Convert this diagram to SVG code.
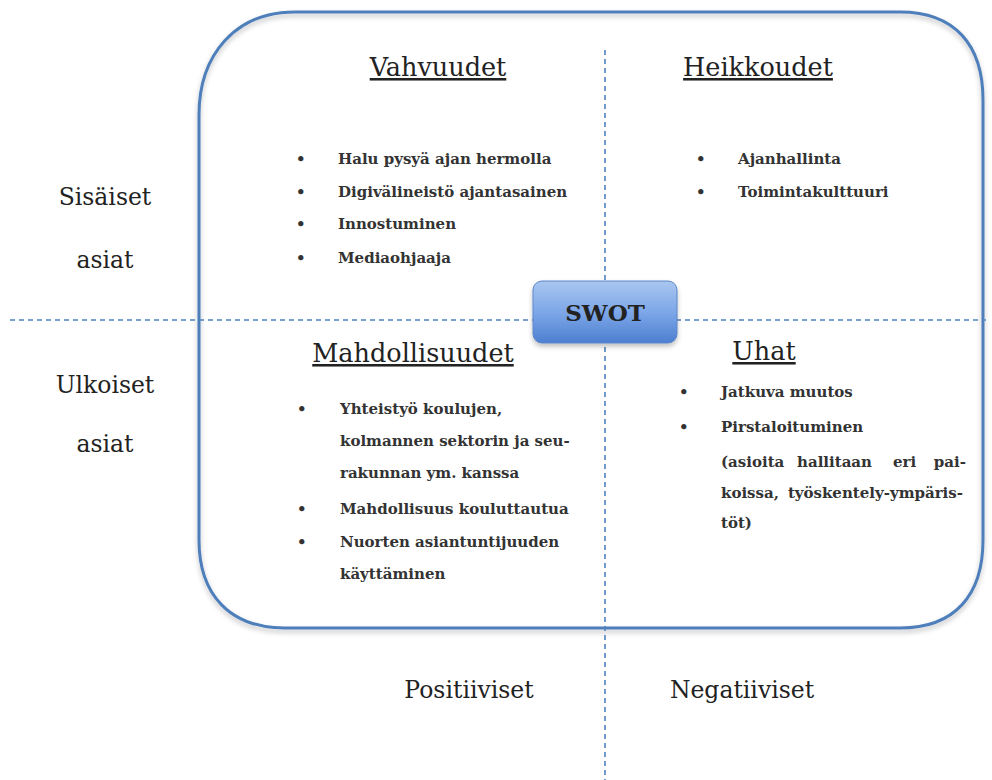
<svg xmlns="http://www.w3.org/2000/svg" width="992" height="780" viewBox="0 0 992 780">
<style>
.t{font-family:"DejaVu Serif","Liberation Serif",serif;fill:#222}
.h{font-size:25.5px;text-decoration:underline;text-anchor:middle}
.side{font-size:23.5px;text-anchor:middle}
.b{font-size:15px;font-weight:bold;fill:#333}
.dash{stroke:#4F81BD;stroke-width:1.6;stroke-dasharray:5 4;fill:none}
</style>
<defs>
<linearGradient id="g" x1="0" y1="0" x2="0" y2="1">
<stop offset="0" stop-color="#A9C6F0"/>
<stop offset="0.5" stop-color="#7DA7E8"/>
<stop offset="1" stop-color="#4D7FD0"/>
</linearGradient>
<filter id="sh" x="-10%" y="-10%" width="120%" height="130%">
<feDropShadow dx="0" dy="3" stdDeviation="2.5" flood-color="#000" flood-opacity="0.25"/>
</filter>
</defs>
<rect width="992" height="780" fill="#fff"/>
<g id="frame">
<path d="M295,12 H900 C955,12 983,45 983,100 V540 C983,595 955,628 900,628 H285 C230,628 199,595 199,540 V115 C199,55 235,12 295,12 Z" fill="none" stroke="#4F7FBB" stroke-width="3" filter="url(#sh)"/>
</g>
<g id="connectors">
<line class="dash" x1="10" y1="320" x2="986" y2="320"/>
<line class="dash" x1="605" y1="50" x2="605" y2="780"/>
</g>
<g id="swot">
<rect x="533" y="281" width="144" height="62" rx="9" fill="url(#g)" stroke="#5A86C8" stroke-width="1" filter="url(#sh)"/>
<text class="t" x="605" y="321" font-size="23" font-weight="bold" text-anchor="middle" fill="#1a1f3a">SWOT</text>
</g>
<g id="labels">
<text class="t side" x="105" y="205">Sisäiset</text>
<text class="t side" x="105" y="268">asiat</text>
<text class="t side" x="105" y="393">Ulkoiset</text>
<text class="t side" x="105" y="452">asiat</text>
<text class="t side" x="469" y="698">Positiiviset</text>
<text class="t side" x="742" y="698">Negatiiviset</text>
</g>
<g id="vahvuudet">
<text class="t h" x="438" y="76">Vahvuudet</text>
<g class="t b">
<text x="296" y="164">•</text><text x="338" y="164">Halu pysyä ajan hermolla</text>
<text x="296" y="197">•</text><text x="338" y="197">Digivälineistö ajantasainen</text>
<text x="296" y="229">•</text><text x="338" y="229">Innostuminen</text>
<text x="296" y="263">•</text><text x="338" y="263">Mediaohjaaja</text>
</g>
</g>
<g id="heikkoudet">
<text class="t h" x="758" y="76">Heikkoudet</text>
<g class="t b">
<text x="696" y="164">•</text><text x="738" y="164">Ajanhallinta</text>
<text x="696" y="197">•</text><text x="738" y="197">Toimintakulttuuri</text>
</g>
</g>
<g id="mahdollisuudet">
<text class="t h" x="413" y="362">Mahdollisuudet</text>
<g class="t b">
<text x="297" y="414">•</text><text x="340" y="414">Yhteistyö koulujen,</text>
<text x="340" y="446">kolmannen sektorin ja seu-</text>
<text x="340" y="478">rakunnan ym. kanssa</text>
<text x="297" y="514">•</text><text x="340" y="514">Mahdollisuus kouluttautua</text>
<text x="297" y="547">•</text><text x="340" y="547">Nuorten asiantuntijuuden</text>
<text x="340" y="579">käyttäminen</text>
</g>
</g>
<g id="uhat">
<text class="t h" x="764" y="360">Uhat</text>
<g class="t b">
<text x="679" y="397">•</text><text x="721" y="397">Jatkuva muutos</text>
<text x="679" y="432">•</text><text x="721" y="432">Pirstaloituminen</text>
<text y="467"><tspan x="721">(asioita</tspan><tspan x="797">hallitaan</tspan><tspan x="893">eri</tspan><tspan x="966" text-anchor="end">pai-</tspan></text>
<text y="498"><tspan x="721">koissa,</tspan><tspan x="963" text-anchor="end">työskentely-ympäris-</tspan></text>
<text x="721" y="528">töt)</text>
</g>
</g>
</svg>
